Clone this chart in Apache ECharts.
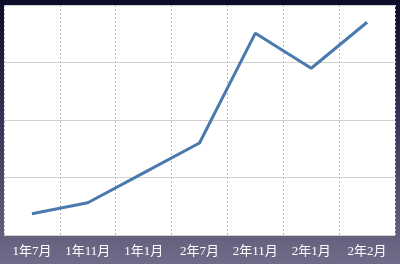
<!DOCTYPE html>
<html><head><meta charset="utf-8">
<script src="https://cdn.jsdelivr.net/npm/echarts@6/dist/echarts.min.js"></script>
<style>html,body{margin:0;padding:0;}#c{width:400px;height:264px;}</style>
</head><body><div id="c"></div>
<script>
var categories = ['1年7月','1年11月','1年1月','2年7月','2年11月','2年1月','2年2月'];
var values = [0.37, 0.56, 1.08, 1.6, 3.51, 2.9, 3.7];
var chart = echarts.init(document.getElementById('c'), null, {renderer:'canvas'});
chart.setOption({
  animation:false,
  backgroundColor:{type:'linear',x:0,y:0,x2:0,y2:1,colorStops:[
    {offset:0,color:'#0d0c28'},{offset:0.45,color:'#353459'},{offset:1,color:'#6f6b88'}]},
  grid:{left:4,right:5,top:5,bottom:29,show:true,backgroundColor:'#ffffff',borderWidth:0,containLabel:false},
  xAxis:{type:'category',data:categories,boundaryGap:true,
    axisLine:{show:false},axisTick:{show:false},
    axisLabel:{interval:0,hideOverlap:false,color:'#ffffff',fontSize:13,fontFamily:'"Liberation Serif","Noto Sans CJK SC",serif',margin:10},
    splitLine:{show:true,interval:0,lineStyle:{color:'#b8b8b8',type:[2,2],width:1}}},
  yAxis:{type:'value',min:0,max:4,interval:1,
    axisLabel:{show:false},axisLine:{show:false},axisTick:{show:false},
    splitLine:{show:true,lineStyle:{color:'#d0d0d0',width:1}}},
  series:[{type:'line',data:values,showSymbol:false,symbol:'none',
    lineStyle:{color:'#4a79ad',width:3}}]
});
</script></body></html>
